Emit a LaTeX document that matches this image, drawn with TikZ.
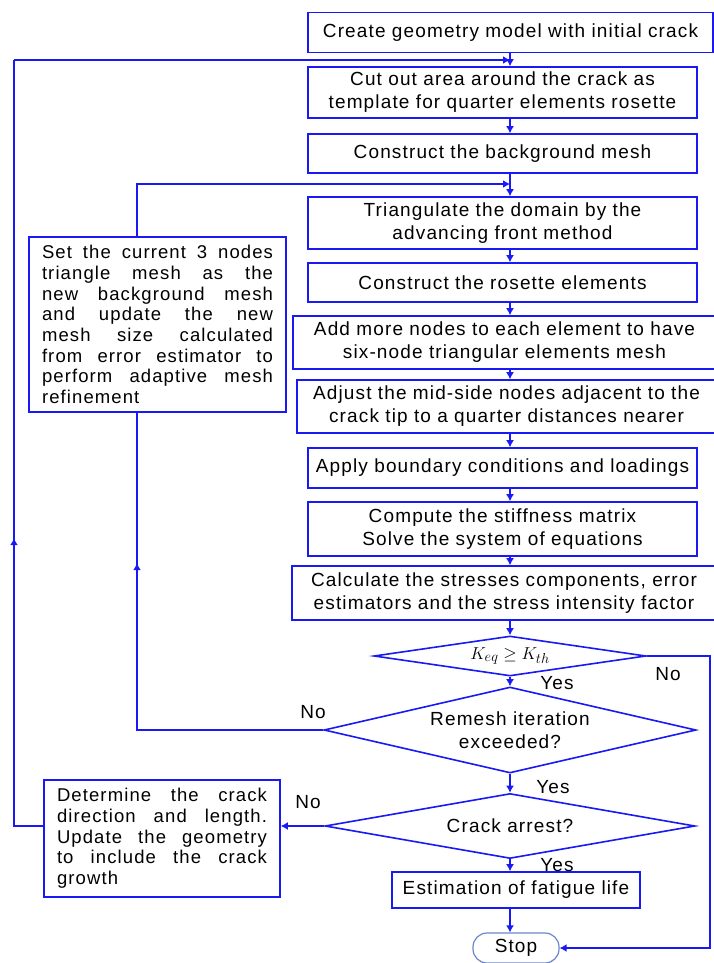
\documentclass[tikz,border=0pt]{standalone}
\usepackage{fontspec}
\setmainfont{Liberation Sans}[LetterSpace=6]
\usetikzlibrary{shapes.geometric,arrows.meta,decorations.markings}
\definecolor{flowblue}{RGB}{25,25,245}
\definecolor{stopblue}{RGB}{105,135,200}
\begin{document}
\begin{tikzpicture}[x=1pt, y=-1pt,
  txt/.style={font=\fontsize{19}{23}\selectfont},
  box/.style 2 args={draw=flowblue, line width=1.6pt, fill=white, txt, align=center,
    inner xsep=4pt, inner ysep=0pt, text width=#1, minimum height=#2},
  sidebox/.style 2 args={draw=flowblue, line width=1.6pt, fill=white, align=justify,
    font=\fontsize{18.5}{20.7}\selectfont, inner xsep=13pt, inner ysep=0pt, text width=#1, minimum height=#2},
  decision/.style n args={3}{diamond, draw=flowblue, line width=1.6pt, fill=white, txt, align=center,
    inner sep=0pt, aspect=#3, minimum width=#1, minimum height=#2},
  flow/.style={draw=flowblue, line width=1.6pt, -{Latex[length=7pt,width=8pt]}},
  line/.style={draw=flowblue, line width=1.6pt},
  uparrow/.style={postaction={decorate}, decoration={markings,
    mark=at position #1 with {\arrow{Latex[length=7pt,width=8pt]}}}},
  lab/.style={txt, inner sep=0pt}]
  \useasboundingbox (0,0) rectangle (714,963);

  % main column
  \node[box={397pt}{40pt}] (create) at (510.5,32.5) {Create geometry model with initial crack};
  \node[box={381pt}{51pt}] (cut) at (502.5,92.5) {Cut out area around the crack as\\template for quarter elements rosette};
  \node[box={381pt}{39pt}] (bgmesh) at (502.5,153.5) {Construct the background mesh};
  \node[box={381pt}{52pt}] (tri) at (502.5,223) {Triangulate the domain by the\\advancing front method};
  \node[box={381pt}{39pt}] (rosette) at (502.5,282.5) {Construct the rosette elements};
  \node[box={415pt}{53pt}] (sixnode) at (504.5,342.5) {Add more nodes to each element to have\\six-node triangular elements mesh};
  \node[box={411pt}{53pt}] (adjust) at (506.5,406.5) {Adjust the mid-side nodes adjacent to the\\crack tip to a quarter distances nearer};
  \node[box={381pt}{40pt}] (bc) at (502.5,468) {Apply boundary conditions and loadings};
  \node[box={381pt}{54pt}] (solve) at (502.5,529) {Compute the stiffness matrix\\Solve the system of equations};
  \node[box={416pt}{54pt}] (stress) at (504,593) {Calculate the stresses components, error\\estimators and the stress intensity factor};
  \node[decision={272pt}{40pt}{6.8}] (thresh) at (510,656) {$K_{eq}\geq K_{th}$};
  \node[decision={372pt}{86pt}{4.3}] (remesh) at (510,730) {Remesh iteration\\exceeded?};
  \node[decision={370pt}{65pt}{5.7}] (arrest) at (510,826) {Crack arrest?};
  \node[box={240pt}{36pt}] (fatigue) at (516,890) {Estimation of fatigue life};
  \node[draw=stopblue, line width=1.2pt, rounded corners=14pt, txt, minimum width=86pt,
    minimum height=30pt, inner sep=0pt] (stop) at (516,948) {Stop};

  % side boxes
  \node[sidebox={231pt}{175pt}] (update) at (157.5,324.5) {Set the current 3 nodes\linebreak
    triangle mesh as the\linebreak new background mesh\linebreak and update the new\linebreak
    mesh size calculated\linebreak from error estimator to\linebreak perform adaptive mesh\linebreak refinement};
  \node[sidebox={210pt}{117pt}] (growth) at (162,838.5) {Determine the crack\linebreak
    direction and length.\linebreak Update the geometry\linebreak to include the crack\linebreak growth};

  \coordinate (spine) at (510,0);
  \coordinate (join0) at (510,60);
  \coordinate (join1) at (510,184);
  \coordinate (loopA) at (137,184);
  \coordinate (loopB) at (14,60);
  \coordinate (loopC) at (710,656);

  \foreach \a/\b in {create/cut, cut/bgmesh, bgmesh/tri, tri/rosette, rosette/sixnode,
    sixnode/adjust, adjust/bc, bc/solve, solve/stress, stress/thresh, thresh/remesh,
    remesh/arrest, arrest/fatigue, fatigue/stop}
    \draw[flow] (\a.south -| spine) -- (\b.north -| spine);

  % loops back
  \draw[line, uparrow=353pt] (remesh.west) -| (update.south -| loopA);
  \draw[flow] (update.north -| loopA) |- (join1);
  \draw[flow] (arrest.west) -- (arrest.west -| growth.east);
  \draw[line, uparrow=317pt] (arrest.west -| growth.west) -| (loopB);
  \draw[flow] (loopB) -- (join0);
  \draw[flow] (thresh.east) -- (loopC) |- (stop.east);

  % labels
  \node[lab] (yes1) at (557,683) {Yes};
  \node[lab] (no1) at (668,674) {No};
  \node[lab] (no2) at (313,712) {No};
  \node[lab] (yes2) at (553,787) {Yes};
  \node[lab] (no3) at (308,802) {No};
  \node[lab] (yes3) at (557,865) {Yes};
\end{tikzpicture}
\end{document}
